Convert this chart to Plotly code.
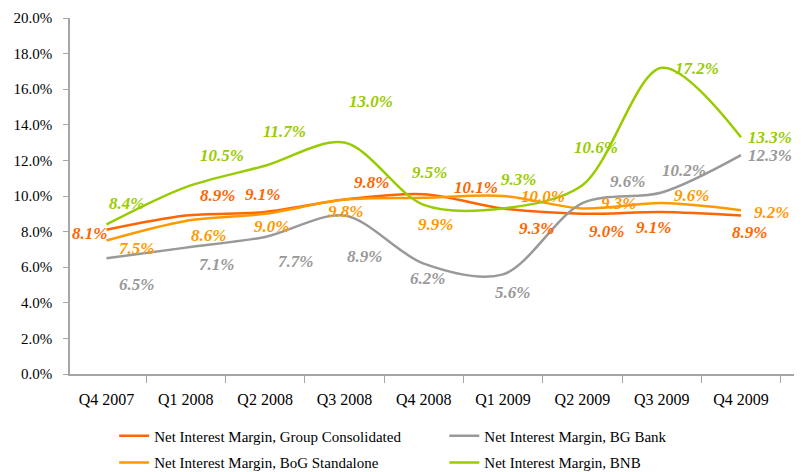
import plotly.graph_objects as go

quarters = ["Q4 2007", "Q1 2008", "Q2 2008", "Q3 2008", "Q4 2008",
            "Q1 2009", "Q2 2009", "Q3 2009", "Q4 2009"]

group_consolidated = [8.1, 8.9, 9.1, 9.8, 10.1, 9.3, 9.0, 9.1, 8.9]
bog_standalone = [7.5, 8.6, 9.0, 9.8, 9.9, 10.0, 9.3, 9.6, 9.2]
bg_bank = [6.5, 7.1, 7.7, 8.9, 6.2, 5.6, 9.6, 10.2, 12.3]
bnb = [8.4, 10.5, 11.7, 13.0, 9.5, 9.3, 10.6, 17.2, 13.3]

names = ["Net Interest Margin, Group Consolidated",
         "Net Interest Margin, BoG Standalone",
         "Net Interest Margin, BG Bank",
         "Net Interest Margin, BNB"]
colors = ["#FF6600", "#FF9900", "#999999", "#99CC00"]
series = [group_consolidated, bog_standalone, bg_bank, bnb]
legend_ids = ["legend", "legend3", "legend2", "legend4"]
# legend placement (paper coords): column x, row y
legend_pos = {"legend": (0.061, -0.128), "legend2": (0.517, -0.128),
              "legend3": (0.061, -0.203), "legend4": (0.517, -0.203)}

# label offsets in pixels (dx right, dy down) — styling only
label_dx = [
    [-17, 32, -3, 27, 52, 33, 24, -8, 8],
    [30, 23, 6, 1, 12, 40, 36, 30, 30],
    [30, 31, 30, 20, 4, 9, 45, 22, 29],
    [20, 36, 19, 27, 6, 15, 14, 35, 29],
]
label_dy = [
    [4, -20, -18, -17, -7, 20, 18, 15, 17],
    [8, 15, 13, 12, 27, 0, -5, -8, 2],
    [26, 17, 25, 41, 15, 18, -22, -22, 0],
    [-21, -32, -34, -41, -32, -29, -38, 1, 0],
]

FONT = "Liberation Serif, Times New Roman, serif"

fig = go.Figure()
for name, col, vals, lg in zip(names, colors, series, legend_ids):
    fig.add_trace(go.Scatter(
        x=quarters, y=[v / 100 for v in vals], mode="lines", name=name,
        line=dict(color=col, width=2.5, shape="spline", smoothing=0.9),
        legend=lg, hoverinfo="skip",
    ))

annotations = []
for vals, col, dxs, dys in zip(series, colors, label_dx, label_dy):
    for q, v, dx, dy in zip(quarters, vals, dxs, dys):
        annotations.append(dict(
            x=q, y=v / 100, xref="x", yref="y", text=f"<b><i>{v:.1f}%</i></b>",
            showarrow=False, xshift=dx, yshift=-dy,
            font=dict(family=FONT, size=17, color=col),
        ))

legend_layout = {}
for lid, (lx, ly) in legend_pos.items():
    legend_layout[lid] = dict(
        orientation="h", x=lx, y=ly, xanchor="left", yanchor="top",
        font=dict(size=15), bgcolor="rgba(0,0,0,0)",
    )

fig.update_layout(
    width=805, height=472,
    margin=dict(l=70, r=11, t=18, b=98, autoexpand=False),
    paper_bgcolor="white", plot_bgcolor="white",
    font=dict(family=FONT, size=15, color="#000000"),
    annotations=annotations,
    xaxis=dict(
        type="category", showgrid=False, showline=True, linecolor="#A6A6A6",
        linewidth=1.5, ticks="outside", tickson="boundaries", ticklen=7,
        tickcolor="#A6A6A6", tickfont=dict(size=16), ticklabelstandoff=10,
    ),
    yaxis=dict(
        range=[0, 0.2], dtick=0.02, tickformat=".1%", showgrid=False,
        showline=True, linecolor="#A6A6A6", linewidth=1.5, ticks="outside",
        ticklen=5, tickcolor="#A6A6A6", tickfont=dict(size=15),
        zeroline=False, ticklabelstandoff=8,
    ),
    showlegend=True,
    **legend_layout,
)

fig.write_html("out.html",
               config={"displayModeBar": False},
               post_script="document.body.style.margin='0';"
                           "document.body.style.overflow='hidden';")
